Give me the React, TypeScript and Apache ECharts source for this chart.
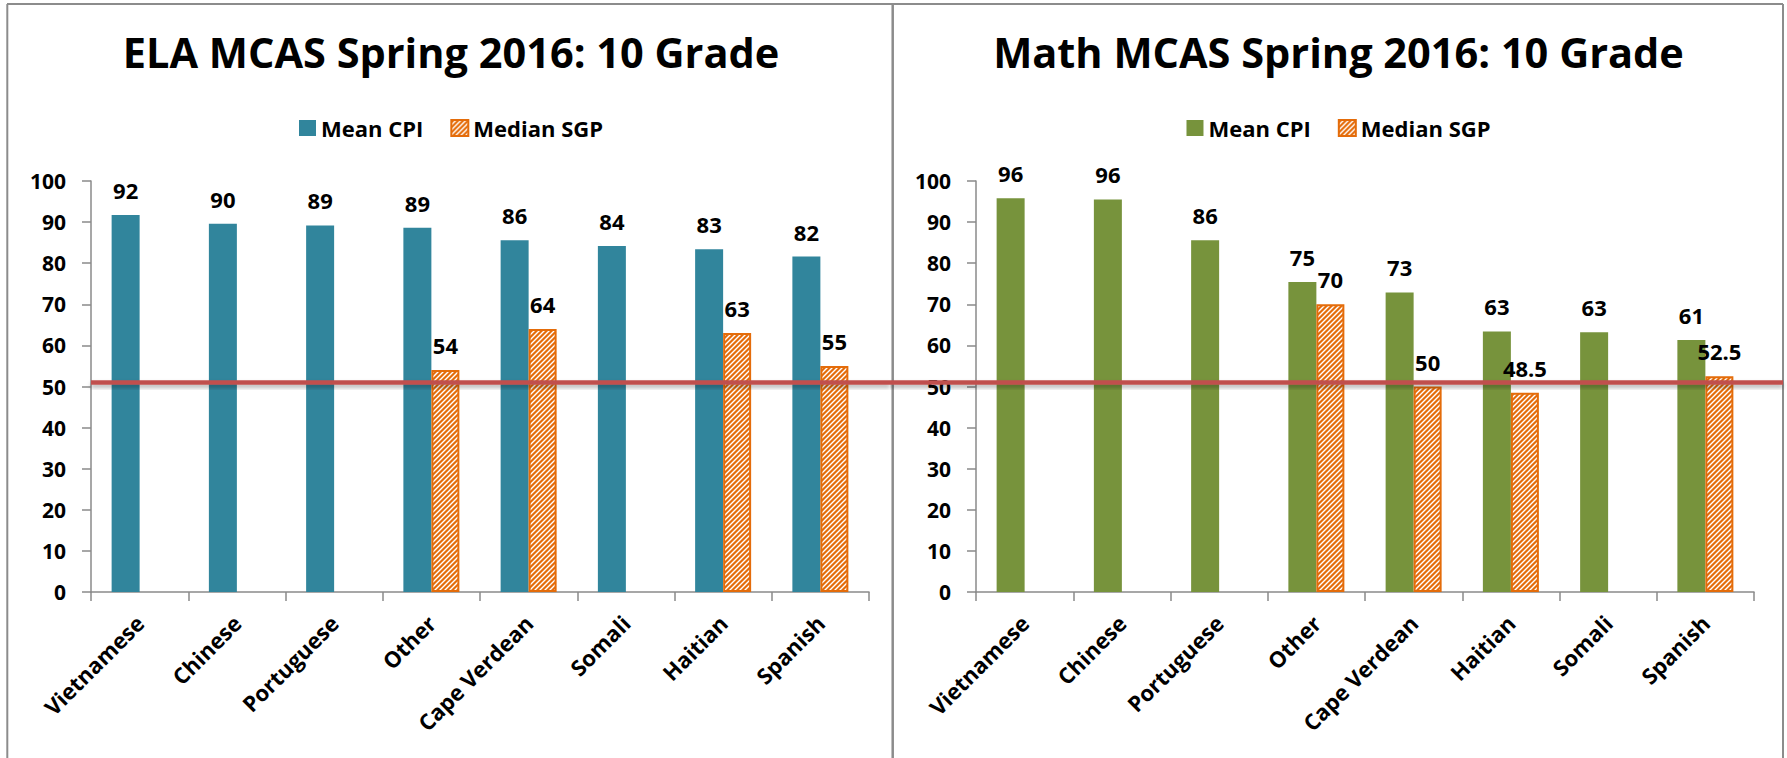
import React, { useEffect, useRef } from 'react';
import * as echarts from 'echarts';

// ---------- data ----------
const seriesNames = ['Mean CPI', 'Median SGP'];

const elaTitle = 'ELA MCAS Spring 2016: 10 Grade';
const elaCategories = ['Vietnamese', 'Chinese', 'Portuguese', 'Other', 'Cape Verdean', 'Somali', 'Haitian', 'Spanish'];
const elaMeanCPI = [91.7, 89.6, 89.2, 88.6, 85.6, 84.2, 83.4, 81.6];
const elaMedianSGP: (number | null)[] = [null, null, null, 54, 64, null, 63, 55];

const mathTitle = 'Math MCAS Spring 2016: 10 Grade';
const mathCategories = ['Vietnamese', 'Chinese', 'Portuguese', 'Other', 'Cape Verdean', 'Haitian', 'Somali', 'Spanish'];
const mathMeanCPI = [95.8, 95.5, 85.6, 75.4, 72.9, 63.4, 63.2, 61.3];
const mathMedianSGP: (number | null)[] = [null, null, null, 70, 50, 48.5, null, 52.5];

const yMin = 0;
const yMax = 100;
const yInterval = 10;
const benchmarkValue = 51;

// ---------- style ----------
const FONT = "'Open Sans', 'DejaVu Sans', sans-serif";
const TEAL = '#31859C';
const GREEN = '#77933C';
const ORANGE = '#E46C0A';
const RED = '#C0504D';
const AXIS_GRAY = '#8A8A8A';
const BORDER_GRAY = '#8C8C8C';

function makeHatch(): HTMLCanvasElement {
  const p = 5;
  const c = document.createElement('canvas');
  c.width = p;
  c.height = p;
  const ctx = c.getContext('2d')!;
  ctx.fillStyle = ORANGE;
  ctx.fillRect(0, 0, p, p);
  ctx.strokeStyle = '#ffffff';
  ctx.lineWidth = 1.4;
  ctx.beginPath();
  ctx.moveTo(0, p);
  ctx.lineTo(p, 0);
  ctx.moveTo(-1, 1);
  ctx.lineTo(1, -1);
  ctx.moveTo(p - 1, p + 1);
  ctx.lineTo(p + 1, p - 1);
  ctx.stroke();
  return c;
}

function buildOption(
  title: string,
  categories: string[],
  cpi: number[],
  sgp: (number | null)[],
  cpiColor: string,
  gridLeft: number,
  hatch: HTMLCanvasElement
) {
  const labelBase = {
    show: true,
    position: 'top',
    distance: 14,
    fontFamily: FONT,
    fontSize: 22,
    fontWeight: 'bold',
    color: '#000',
  };
  return {
    animation: false,
    textStyle: { fontFamily: FONT },
    title: {
      text: title,
      left: 'center',
      top: 31,
      padding: 0,
      textStyle: { fontFamily: FONT, fontSize: 41.5, fontWeight: 'bold', color: '#000' },
    },
    legend: {
      top: 117,
      left: 'center',
      padding: 0,
      icon: 'rect',
      itemWidth: 17,
      itemHeight: 16,
      itemGap: 27,
      selectedMode: false,
      textStyle: { fontFamily: FONT, fontSize: 22, fontWeight: 'bold', color: '#000' },
      data: [{ name: seriesNames[0], itemStyle: { color: cpiColor } }, { name: seriesNames[1] }],
    },
    grid: { left: gridLeft, top: 181, width: 778, height: 411, containLabel: false },
    xAxis: {
      type: 'category',
      data: categories,
      axisLine: { show: true, lineStyle: { color: AXIS_GRAY, width: 1.5 } },
      axisTick: { show: true, length: 9, alignWithLabel: false, lineStyle: { color: AXIS_GRAY, width: 1.5 } },
      axisLabel: {
        interval: 0,
        rotate: 45,
        margin: 27,
        fontFamily: FONT,
        fontSize: 22,
        fontWeight: 'bold',
        color: '#000',
      },
      splitLine: { show: false },
    },
    yAxis: {
      type: 'value',
      min: yMin,
      max: yMax,
      interval: yInterval,
      axisLine: { show: true, lineStyle: { color: AXIS_GRAY, width: 1.5 } },
      axisTick: { show: true, length: 9, lineStyle: { color: AXIS_GRAY, width: 1.5 } },
      axisLabel: { margin: 25, fontFamily: FONT, fontSize: 21, fontWeight: 'bold', color: '#000' },
      splitLine: { show: false },
    },
    series: [
      {
        name: seriesNames[0],
        type: 'bar',
        data: cpi,
        barWidth: 28,
        barGap: '0%',
        itemStyle: { color: cpiColor },
        label: { ...labelBase, formatter: (p: any) => String(Math.round(p.value)) },
      },
      {
        name: seriesNames[1],
        type: 'bar',
        data: sgp,
        barWidth: 28,
        barGap: '0%',
        itemStyle: {
          color: { image: hatch, repeat: 'repeat' },
          borderColor: ORANGE,
          borderWidth: 2,
        },
        label: { ...labelBase, formatter: (p: any) => String(p.value) },
      },
    ],
  };
}

const LEFT_W = 902;
const RIGHT_X = 890;
const RIGHT_W = 1787 - RIGHT_X;
const RED_H = 4.5;

export default function App() {
  const leftRef = useRef<HTMLDivElement>(null);
  const rightRef = useRef<HTMLDivElement>(null);

  useEffect(() => {
    document.body.style.margin = '0';
    const hatch = makeHatch();
    const c1 = echarts.init(leftRef.current!, null, { renderer: 'svg' });
    const c2 = echarts.init(rightRef.current!, null, { renderer: 'svg' });

    const leftGrid = 91;
    const rightGrid = 976 - RIGHT_X;

    c1.setOption(buildOption(elaTitle, elaCategories, elaMeanCPI, elaMedianSGP, TEAL, leftGrid, hatch) as any);
    c2.setOption(buildOption(mathTitle, mathCategories, mathMeanCPI, mathMedianSGP, GREEN, rightGrid, hatch) as any);

    const y1 = Number(c1.convertToPixel({ yAxisIndex: 0 }, benchmarkValue));
    const y2 = Number(c2.convertToPixel({ yAxisIndex: 0 }, benchmarkValue));

    const redStyle = {
      fill: RED,
      shadowBlur: 4,
      shadowOffsetY: 3,
      shadowColor: 'rgba(0,0,0,0.3)',
    };
    const borderStyle = { stroke: BORDER_GRAY, lineWidth: 2 };

    c1.setOption({
      graphic: [
        { type: 'line', z: 50, shape: { x1: 7, y1: 4, x2: LEFT_W, y2: 4 }, style: borderStyle },
        { type: 'line', z: 50, shape: { x1: 7.3, y1: 4, x2: 7.3, y2: 758 }, style: borderStyle },
        { type: 'line', z: 50, shape: { x1: 892.7, y1: 4, x2: 892.7, y2: 758 }, style: { ...borderStyle, lineWidth: 2.5 } },
        {
          type: 'rect',
          z: 100,
          shape: { x: leftGrid, y: y1 - RED_H / 2, width: RIGHT_X - leftGrid, height: RED_H },
          style: redStyle,
        },
      ],
    });
    c2.setOption({
      graphic: [
        { type: 'line', z: 50, shape: { x1: 0, y1: 4, x2: 1783 - RIGHT_X, y2: 4 }, style: borderStyle },
        { type: 'line', z: 50, shape: { x1: 1783 - RIGHT_X, y1: 4, x2: 1783 - RIGHT_X, y2: 758 }, style: borderStyle },
        {
          type: 'rect',
          z: 100,
          shape: { x: 0, y: y2 - RED_H / 2, width: 1783 - RIGHT_X, height: RED_H },
          style: redStyle,
        },
      ],
    });

    return () => {
      c1.dispose();
      c2.dispose();
    };
  }, []);

  return (
    <div style={{ position: 'absolute', left: 0, top: 0, width: 1787, height: 758, background: '#fff' }}>
      <div ref={leftRef} style={{ position: 'absolute', left: 0, top: 0, width: LEFT_W, height: 758 }} />
      <div ref={rightRef} style={{ position: 'absolute', left: RIGHT_X, top: 0, width: RIGHT_W, height: 758 }} />
    </div>
  );
}
